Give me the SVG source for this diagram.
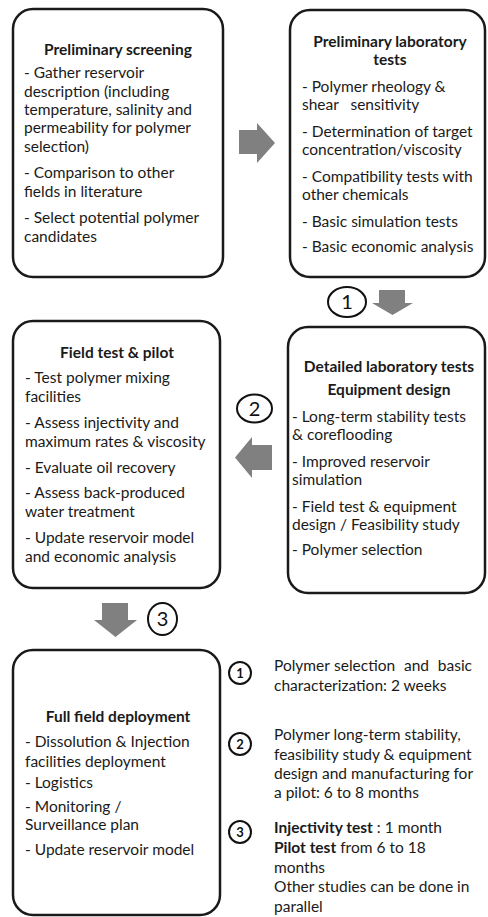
<svg xmlns="http://www.w3.org/2000/svg" width="488" height="917" viewBox="0 0 488 917">
<style>
.box{fill:#fff;stroke:#1a1a1a;stroke-width:2.5}
.t{font-family:Lato,"Liberation Sans",sans-serif;font-size:15.5px;fill:#1a1a1a}
.b{font-weight:bold}
.m{text-anchor:middle}
.e{text-anchor:end}
.arrow{fill:#808080;stroke:none}
.num{fill:none;stroke:#111;stroke-width:2}
.d{font-family:Lato,"Liberation Sans",sans-serif;font-size:20px;fill:#111;text-anchor:middle}
.ld{font-family:Lato,"Liberation Sans",sans-serif;font-size:13px;font-weight:bold;fill:#111;text-anchor:middle}
</style>
<rect width="488" height="917" fill="#fff"/>
<g id="connectors">
<polygon class="arrow" points="239,130 257,130 257,123 275,143 257,163 257,154 239,154"/>
<polygon class="arrow" points="379,290 405,290 405,303 413,303 392.5,315 372,303 379,303"/>
<polygon class="arrow" points="272,445 252,445 252,437 235,457.5 252,478 252,470 272,470"/>
<polygon class="arrow" points="102,603 128,603 128,620 137,620 115.5,637 94,620 102,620"/>
<g id="step1"><ellipse class="num" cx="347" cy="302" rx="19" ry="15"/><text class="d" x="347" y="309">1</text></g>
<g id="step2"><ellipse class="num" cx="254.5" cy="408.5" rx="17.5" ry="14"/><text class="d" x="254.5" y="415.5">2</text></g>
<g id="step3"><ellipse class="num" cx="162.5" cy="619" rx="14.5" ry="16"/><text class="d" x="162.5" y="626">3</text></g>
</g>
<g id="preliminary-screening">
<rect class="box" x="13" y="9" width="210" height="268" rx="20"/>
<text class="t b m" x="118" y="55">Preliminary screening</text>
<text class="t" x="24" y="78">- Gather reservoir</text>
<text class="t" x="24" y="97">description (including</text>
<text class="t" x="24" y="115">temperature, salinity and</text>
<text class="t" x="24" y="133">permeability for polymer</text>
<text class="t" x="24" y="152">selection)</text>
<text class="t" x="24" y="178">- Comparison to other</text>
<text class="t" x="24" y="197">fields in literature</text>
<text class="t" x="24" y="223">- Select potential polymer</text>
<text class="t" x="24" y="242">candidates</text>
</g>
<g id="preliminary-lab-tests">
<rect class="box" x="290" y="10" width="195" height="267" rx="20"/>
<text class="t b m" x="390" y="47">Preliminary laboratory</text>
<text class="t b m" x="390" y="65">tests</text>
<text class="t" x="302" y="92">- Polymer rheology &amp;</text>
<text class="t" x="302" y="110" xml:space="preserve">shear   sensitivity</text>
<text class="t" x="302" y="137">- Determination of target</text>
<text class="t" x="302" y="155">concentration/viscosity</text>
<text class="t" x="302" y="182">- Compatibility tests with</text>
<text class="t" x="302" y="200">other chemicals</text>
<text class="t" x="302" y="227">- Basic simulation tests</text>
<text class="t" x="302" y="252">- Basic economic analysis</text>
</g>
<g id="field-test-pilot">
<rect class="box" x="13" y="321" width="207" height="267" rx="20"/>
<text class="t b m" x="117" y="358">Field test &amp; pilot</text>
<text class="t" x="25" y="383">- Test polymer mixing</text>
<text class="t" x="25" y="402">facilities</text>
<text class="t" x="25" y="428">- Assess injectivity and</text>
<text class="t" x="25" y="447">maximum rates &amp; viscosity</text>
<text class="t" x="25" y="473">- Evaluate oil recovery</text>
<text class="t" x="25" y="498">- Assess back-produced</text>
<text class="t" x="25" y="517">water treatment</text>
<text class="t" x="25" y="543">- Update reservoir model</text>
<text class="t" x="25" y="562">and economic analysis</text>
</g>
<g id="detailed-lab-tests">
<rect class="box" x="288" y="327" width="197" height="266" rx="20"/>
<text class="t b m" x="389" y="372">Detailed laboratory tests</text>
<text class="t b m" x="389" y="395">Equipment design</text>
<text class="t" x="292" y="422">- Long-term stability tests</text>
<text class="t" x="292" y="440">&amp; coreflooding</text>
<text class="t" x="292" y="467">- Improved reservoir</text>
<text class="t" x="292" y="485">simulation</text>
<text class="t" x="292" y="512">- Field test &amp; equipment</text>
<text class="t" x="292" y="530">design / Feasibility study</text>
<text class="t" x="292" y="555">- Polymer selection</text>
</g>
<g id="full-field-deployment">
<rect class="box" x="13" y="650" width="207" height="265" rx="20"/>
<text class="t b m" x="118" y="722">Full field deployment</text>
<text class="t" x="25" y="747">- Dissolution &amp; Injection</text>
<text class="t" x="25" y="767">facilities deployment</text>
<text class="t" x="25" y="788">- Logistics</text>
<text class="t" x="25" y="812">- Monitoring /</text>
<text class="t" x="25" y="830">Surveillance plan</text>
<text class="t" x="25" y="855">- Update reservoir model</text>
</g>
<g id="legend">
<g id="legend-1">
<circle class="num" cx="240" cy="673" r="11"/><text class="ld" x="240" y="677.5">1</text>
<text class="t" x="274" y="671">Polymer</text>
<text class="t" x="334" y="671">selection</text>
<text class="t e" x="429" y="671">and</text>
<text class="t e" x="472" y="671">basic</text>
<text class="t" x="274" y="691">characterization: 2 weeks</text>
</g>
<g id="legend-2">
<circle class="num" cx="240" cy="744" r="11"/><text class="ld" x="240" y="748.5">2</text>
<text class="t" x="274" y="740">Polymer long-term stability,</text>
<text class="t" x="274" y="760">feasibility study &amp; equipment</text>
<text class="t" x="274" y="779">design and manufacturing for</text>
<text class="t" x="274" y="798">a pilot: 6 to 8 months</text>
</g>
<g id="legend-3">
<circle class="num" cx="240" cy="832" r="11"/><text class="ld" x="240" y="836.5">3</text>
<text class="t" x="274" y="833"><tspan class="b">Injectivity test</tspan> : 1 month</text>
<text class="t" x="274" y="853"><tspan class="b">Pilot test</tspan> from 6 to 18</text>
<text class="t" x="274" y="873">months</text>
<text class="t" x="274" y="892">Other studies can be done in</text>
<text class="t" x="274" y="912">parallel</text>
</g>
</g>
</svg>
